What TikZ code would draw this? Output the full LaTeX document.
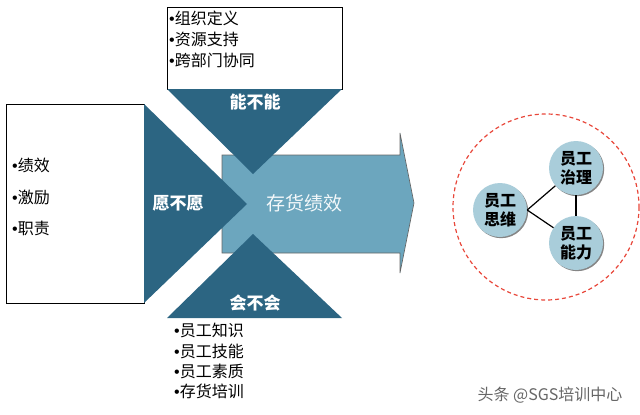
\documentclass[tikz,border=0pt]{standalone}
\usepackage{fontspec}
\setmainfont{Noto Sans CJK SC}
\newfontfamily\bulfont{Liberation Sans}
\usetikzlibrary{shadows}
\definecolor{tridark}{HTML}{2C6582}
\definecolor{arrowblue}{HTML}{6CA6BE}
\definecolor{ballblue}{HTML}{A9CDDA}
\definecolor{ringred}{HTML}{E8473A}
\newcommand{\bul}{{\bulfont •}}
\tikzset{>=latex}

\begin{document}
\begin{tikzpicture}[x = 1pt, y = -1pt,
  item/.style = {anchor = west, inner sep = 0pt, font = \fontsize{16}{18}\selectfont},
  tag/.style = {text = white, inner sep = 0pt, font = \fontsize{17}{20}\selectfont\bfseries},
  ball/.style = {circle, fill = ballblue, minimum size = 54pt, inner sep = 0pt, align = center,
    font = \fontsize{16}{19}\selectfont\bfseries,
    drop shadow = {shadow xshift = 1.2pt, shadow yshift = -1.2pt, fill = black!60, opacity = .8}},
  link/.style = {line width = 1.2pt}]
\useasboundingbox (0,0) rectangle (640,415);
\begin{scope}
\draw[gray!80!black, line width = 0.6pt, fill = arrowblue] (222,155) -- (400,155) -- (400,133) -- (414,203)
  -- (400,273) -- (400,253) -- (222,253) -- cycle;
\node[text = white!92!arrowblue, font = \fontsize{19}{22}\selectfont] (goal) at (304, 203) {存货绩效};
\end{scope}
\begin{scope}
\draw[line width = 0.8pt, fill = white] (6,104) rectangle (144,303);
\fill[tridark] (144,104) -- (247,204) -- (144,303) -- cycle;
\node[tag] (will) at (178, 203) {愿不愿};
\node[item] (w1) at (12, 165) {\bul 绩效};
\node[item] (w2) at (12, 197) {\bul 激励};
\node[item] (w3) at (12, 228) {\bul 职责};
\end{scope}
\begin{scope}
\draw[line width = 0.8pt, fill = white] (167,7) rectangle (342,89);
\fill[tridark] (167,89) -- (342,89) -- (253,174) -- cycle;
\node[tag] (can) at (255, 102) {能不能};
\node[item] (c1) at (169, 18) {\bul 组织定义};
\node[item] (c2) at (169, 39) {\bul 资源支持};
\node[item] (c3) at (169, 60) {\bul 跨部门协同};
\end{scope}
\begin{scope}
\fill[tridark] (167,318) -- (342,318) -- (253,234) -- cycle;
\node[tag] (know) at (255, 303) {会不会};
\node[item] (k1) at (174, 330) {\bul 员工知识};
\node[item] (k2) at (174, 351) {\bul 员工技能};
\node[item] (k3) at (174, 371) {\bul 员工素质};
\node[item] (k4) at (174, 391) {\bul 存货培训};
\end{scope}
\begin{scope}
\draw[ringred, line width = 1.2pt, dash pattern = on 4pt off 3pt] (546,207) circle (93);
\node[ball] (siwei) at (500, 210) {员工\\思维};
\node[ball] (zhili) at (576, 168) {员工\\治理};
\node[ball] (nengli) at (576, 243) {员工\\能力};
\draw[link] (siwei.east) -- (zhili);
\draw[link] (siwei.east) -- (nengli);
\draw[link] (zhili) -- (nengli);
\end{scope}
\node[text = black!60, font = \fontsize{16}{18}\selectfont] (mark) at (550, 395) {头条 @SGS培训中心};
\end{tikzpicture}
\end{document}
